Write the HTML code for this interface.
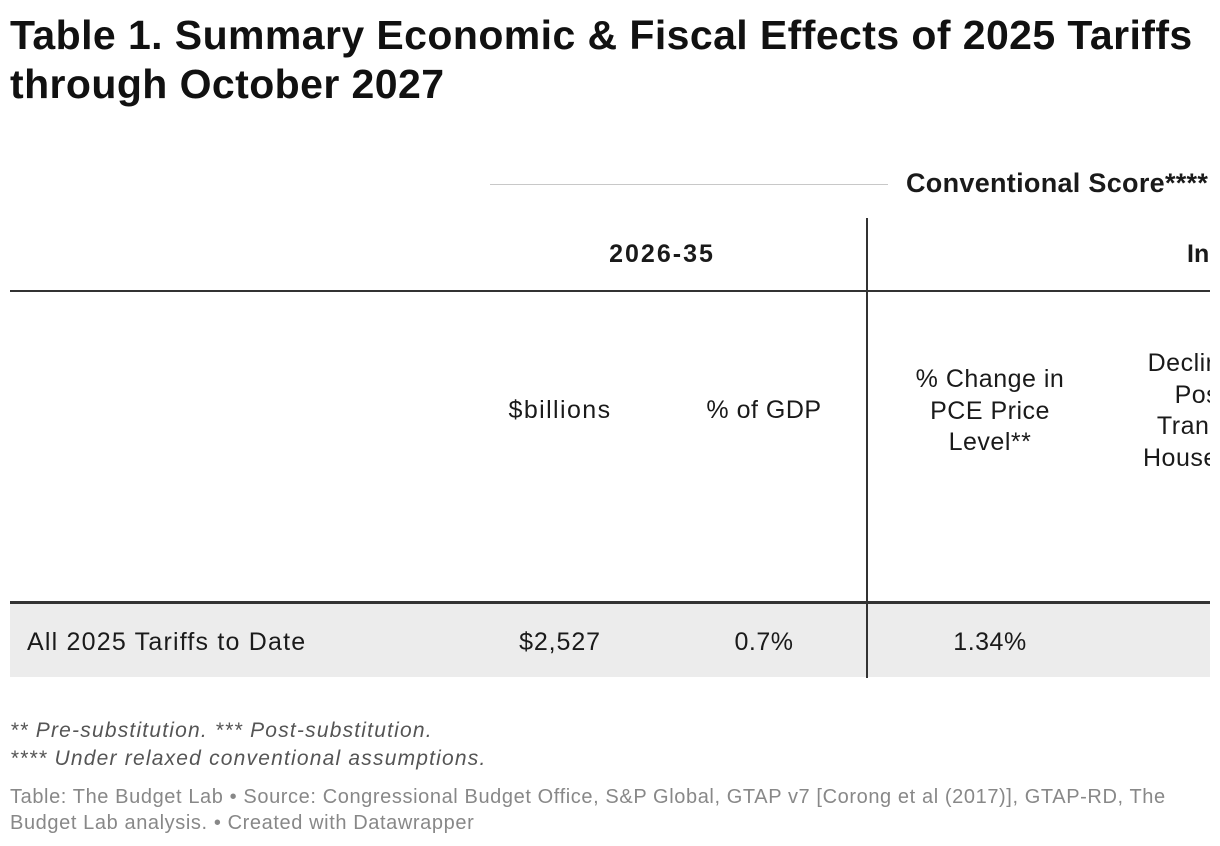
<!DOCTYPE html>
<html><head><meta charset="utf-8"><style>
body{margin:0;width:1220px;height:846px;background:#fff;font-family:"Liberation Sans",sans-serif;position:relative;overflow:hidden;color:#1a1a1a}
.a{position:absolute;white-space:nowrap}
.c{transform:translateX(-50%);text-align:center}
.b{font-size:25px;letter-spacing:0.5px}
#clip{position:absolute;left:0;top:0;width:1210px;height:846px;overflow:hidden}
</style></head><body>
<div class="a" style="left:10px;top:11px;font-size:41px;font-weight:bold;line-height:49px;letter-spacing:0.42px;color:#111">Table 1. Summary Economic &amp; Fiscal Effects of 2025 Tariffs<br>through October 2027</div>
<div id="clip">
  <div class="a" style="left:490px;top:184px;width:398px;height:1px;background:#c8c8c8"></div>
  <div class="a" style="left:906px;top:167px;font-size:27px;font-weight:bold;line-height:32px;letter-spacing:0.3px">Conventional Score****</div>
  <div class="a" style="left:866px;top:218px;width:2px;height:460px;background:#333"></div>
  <div class="a c" style="left:662px;top:239px;font-size:25px;font-weight:bold;line-height:30px;letter-spacing:2px">2026-35</div>
  <div class="a" style="left:1187px;top:239px;font-size:25px;font-weight:bold;line-height:30px">In 2026</div>
  <div class="a" style="left:10px;top:290px;width:1200px;height:2px;background:#333"></div>
  <div class="a c b" style="left:560px;top:395px;line-height:31px;letter-spacing:1.4px">$billions</div>
  <div class="a c b" style="left:764px;top:395px;line-height:31px">% of GDP</div>
  <div class="a c b" style="left:990px;top:364px;line-height:31.5px">% Change in<br>PCE Price<br>Level**</div>
  <div class="a c b" style="left:1205px;top:348px;line-height:31.5px">Decline in<br>Post-<br>Transfer<br>Household</div>
  <div class="a" style="left:10px;top:601px;width:1200px;height:3px;background:#333"></div>
  <div class="a" style="left:10px;top:604px;width:1200px;height:73px;background:#ececec"></div>
  <div class="a" style="left:866px;top:604px;width:2px;height:74px;background:#333"></div>
  <div class="a b" style="left:27px;top:627px;line-height:31px;letter-spacing:1.2px">All 2025 Tariffs to Date</div>
  <div class="a c b" style="left:560px;top:627px;line-height:31px;letter-spacing:0.9px">$2,527</div>
  <div class="a c b" style="left:764px;top:627px;line-height:31px">0.7%</div>
  <div class="a c b" style="left:990px;top:627px;line-height:31px">1.34%</div>
</div>
<div class="a" style="left:10px;top:717px;font-size:21px;font-style:italic;color:#555;line-height:28px;letter-spacing:1.2px">** Pre-substitution. *** Post-substitution.<br>**** Under relaxed conventional assumptions.</div>
<div class="a" style="left:10px;top:784px;font-size:20px;color:#888;line-height:26px;letter-spacing:0.6px">Table: The Budget Lab • Source: Congressional Budget Office, S&amp;P Global, GTAP v7 [Corong et al (2017)], GTAP-RD, The<br>Budget Lab analysis. • Created with Datawrapper</div>
</body></html>
